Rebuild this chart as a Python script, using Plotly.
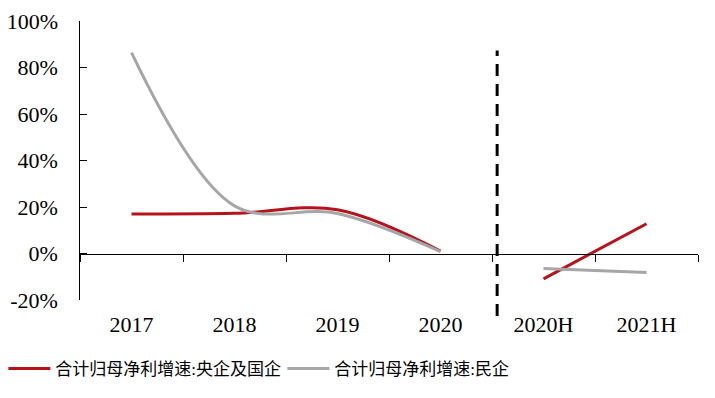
import plotly.graph_objects as go

categories = ["2017", "2018", "2019", "2020", "2020H", "2021H"]
annual_cats = ["2017", "2018", "2019", "2020"]
half_cats = ["2020H", "2021H"]

soe_annual = [17.0, 17.3, 18.8, 1.0]
soe_half = [-10.9, 12.8]
private_annual = [86.4, 20.5, 17.2, 0.8]
private_half = [-6.4, -8.2]

y_ticks = [-20, 0, 20, 40, 60, 80, 100]
y_ticktext = ["-20%", "0%", "20%", "40%", "60%", "80%", "100%"]

name_soe = "合计归母净利增速:央企及国企"
name_private = "合计归母净利增速:民企"

RED = "#B5121B"
GRAY = "#A6A6A6"
serif = "Liberation Serif"
cjk = "Liberation Serif, Noto Sans CJK SC"
PAD = "\u00a0\u00a0\u00a0"

fig = go.Figure()
fig.add_trace(go.Scatter(x=annual_cats, y=soe_annual, mode="lines", name=name_soe,
                         line=dict(color=RED, width=3, shape="spline", smoothing=1.0),
                         legendgroup="soe", xaxis="x", yaxis="y"))
fig.add_trace(go.Scatter(x=annual_cats, y=private_annual, mode="lines", name=name_private,
                         line=dict(color=GRAY, width=3, shape="spline", smoothing=1.0),
                         legendgroup="pri", xaxis="x", yaxis="y"))
fig.add_trace(go.Scatter(x=half_cats, y=soe_half, mode="lines", name=name_soe,
                         line=dict(color=RED, width=3, shape="spline"),
                         legendgroup="soe", showlegend=False, xaxis="x2", yaxis="y"))
fig.add_trace(go.Scatter(x=half_cats, y=private_half, mode="lines", name=name_private,
                         line=dict(color=GRAY, width=3, shape="spline"),
                         legendgroup="pri", showlegend=False, xaxis="x2", yaxis="y"))

yr = [-20, 100]
zero_pos = (0 - yr[0]) / (yr[1] - yr[0])

fig.update_layout(
    width=715, height=398,
    margin=dict(l=72, r=25, t=13, b=106, autoexpand=False),
    paper_bgcolor="white", plot_bgcolor="white",
    showlegend=True,
    xaxis=dict(type="category", categoryorder="array", categoryarray=categories,
               range=[-0.5, 5.5], anchor="y", side="bottom",
               showline=False, ticks="", showgrid=False, zeroline=False,
               tickfont=dict(family=serif, size=22, color="black"),
               ticklabelstandoff=9, automargin=False),
    xaxis2=dict(type="category", categoryorder="array", categoryarray=categories,
                range=[-0.5, 5.5], overlaying="x", anchor="free", position=zero_pos,
                showline=True, linecolor="black", linewidth=1.3,
                ticks="outside", ticklen=7, tickcolor="black", tickwidth=1.3,
                tickson="boundaries", showticklabels=False, showgrid=False, zeroline=False),
    yaxis=dict(range=yr, tickmode="array", tickvals=y_ticks,
               ticktext=[t + PAD for t in y_ticktext],
               showline=True, linecolor="black", linewidth=1.3,
               ticks="inside", ticklen=7, tickcolor="black", tickwidth=1.3,
               showgrid=False, zeroline=False, automargin=False,
               ticklabeloverflow="allow",
               tickfont=dict(family=serif, size=22, color="black")),
    legend=dict(orientation="h", x=-0.124, xanchor="left", y=-0.247, yanchor="middle",
                font=dict(family=cjk, size=17, color="black"),
                entrywidth=222, entrywidthmode="pixels", itemwidth=42,
                bgcolor="rgba(0,0,0,0)"),
    shapes=[dict(type="line", xref="x", yref="paper", x0=3.55, x1=3.55,
                 y0=-0.057, y1=0.894,
                 line=dict(color="black", width=3, dash="12px,8px"))],
)

fig.write_html("out.html")
